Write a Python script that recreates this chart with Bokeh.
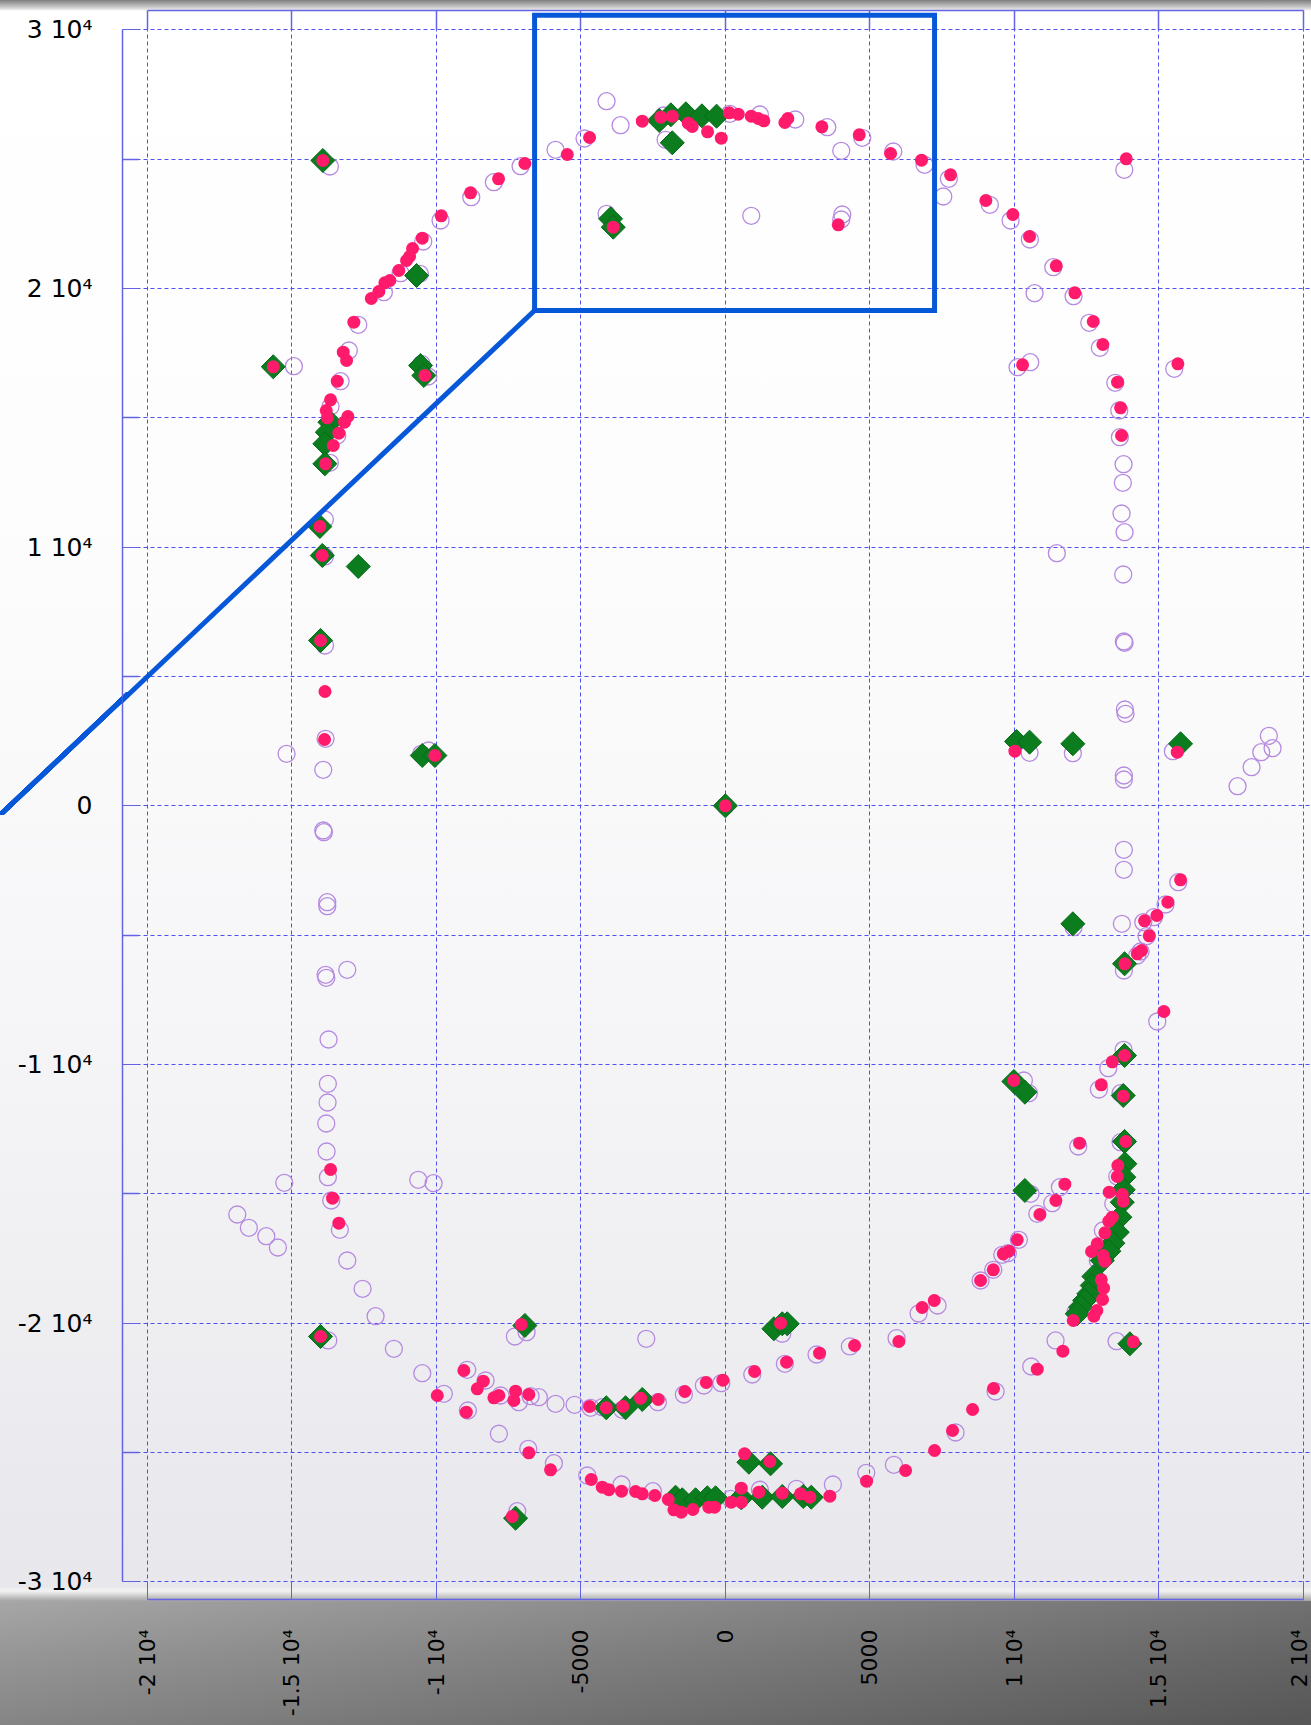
import math
from bokeh.plotting import figure
from bokeh.models import Range1d, LinearAxis, FixedTicker, BoxAnnotation, Arrow
from bokeh.embed import file_html
from bokeh.resources import INLINE

# ---------------- data ----------------
pink_x = [-7850, -6939, -5472, -4700, -2876, -2232, -1838, -1284, -1146, -616, -142, 135, 446, 896,
          1139, 1332, 2059, 2163, 3340, 4634, 5718, 6790, 7794, -3880, 3907,
          9016, 9950, 10528, 11453, 12096, 12733, 13065, 13574, 13678, 13712, 13875, 10286, 15661,
          10020, 15640, 15754, 15315, 14934, 14508, 14671, 14405, 14256, 13827, 15177, 13816, 13391, 9985,
          13010, 13771, 13861, 12259, 13584, 13564, 11750, 13287, 13737, 13771, 11439, 10885, 13391, 13273,
          13134, 10103, 9812, 9618, 12871, 12674, 13079, 13134, 9272, 8833, 13010, 13090, 13055, 12858,
          12754, 12041, 14117, 11681, 10795, 6811, 7230, 6237, 7240, 7863, 8556, 9282,
          -7064, 1910, -9051, -8379, -8587, -9971, -8012, -7839, -7261, -7320, -6801, -8967,
          -4700, -4122, -3548, -2935, -2322, -1402, -661, -87, 1011, 2118, 3260, 4472, 6005,
          -6801, -6050, -4641, -4260, -4032, -3593, -3108, -2876, -2440, -1976, -1782, -1526, -1125,
          -571, -374, 204, 550, 550, 1159, 1969, 2603, 2925, 3617, 4887, 665, 1540, -7375,
          -13664, -13595, -13377, -14010, -13931, -8819, -9833, -10490, -10826, -10930, -11034, -11300,
          -11612, -11785, -11992, -12255, -12858, -13225, -13110, -13432, -13664, -13813, -13778, -13065,
          -13180, -13377, -13570, -13837, -15647, -10400, -14034, -13951, -14010, -13858, -13872, -10054, 0]
pink_y = [24240, 24831, 25179, 25837, 26467, 26621, 26660, 26389, 26262, 26057, 25809, 26791, 26737, 26660,
          26571, 26482, 26416, 26571, 26250, 25941, 25218, 24959, 24394, 22369, 22461,
          23401, 22860, 22009, 20876, 19833, 18723, 17834, 16376, 15387, 14316, 25013, 17049, 17088,
          2111, 2072, -2861, -3727, -4241, -4446, -5026, -5594, -5722, -6108, -7952, -9653, -9897, -10620,
          -10786, -11227, -12978, -13044, -13906, -14331, -14629, -14938, -15027, -15286, -15259, -15800, -15905, -16059,
          -16508, -16778, -17219, -17320, -16933, -17231, -17385, -17606, -17938, -18352, -18325, -18650, -19086, -19512,
          -19732, -19898, -20722, -21085, -21781, -19396, -19125, -25697, -24924, -24151, -23339, -22527,
          -20053, -20003, -21831, -22245, -22539, -22798, -22887, -22798, -22632, -22991, -22759, -23443,
          -23223, -23273, -23223, -22902, -22952, -22643, -22295, -22206, -21870, -21510, -21162, -20865, -20710,
          -25013, -25670, -26045, -26343, -26443, -26498, -26509, -26598, -26664, -26818, -27217, -27309, -27205,
          -27116, -27116, -26923, -26923, -26382, -26536, -26575, -26598, -26730, -26691, -26111, -25052, -25349, -27476,
          -14061, -15170, -16137, -20517, 24947, 23699, 22809, 21943, 21545, 21236, 21081, 20695,
          20308, 20219, 19883, 19612, 18696, 17536, 17215, 16415, 15696, 15282, 15000, 15050,
          14830, 14405, 13929, 13222, 16972, 16635, 10798, 9677, 6391, 4419, 2563, 1945, 0]

green_x = [-2288, -1886, -1367, -813, -305, -1838, -3973, -3880,
           -13931, -15647, -10688, -10549, -10435, -13688, -13778, -13861, -13861, -14034, -13951, -12705,
           -14010, -10490, -10054, 0,
           10078, 10528, 12027, 15754, 12027, 13816, 13816, 9985, 10366, 13771, 13816, 13827, 13792, 13771,
           13737, 13654, 13564, 13411, 13273, 13045, 12754, 12698, 12581, 12432, 12293, 12179, 10366, 14000,
           -6939, 1679, 1969, 2142, -4122, -3454, -2876, -7261, -1724, -1492, -1031, -626, -339, 550, 1277,
           1969, 2696, 2973, 813, 1564, -14010]
green_y = [26494, 26714, 26753, 26675, 26660, 25632, 22693, 22369,
           24947, 16972, 20501, 17022, 16635, 14830, 14443, 13995, 13222, 10798, 9677, 9251,
           6391, 1945, 1945, 0,
           2486, 2459, 2397, 2397, -4562, -6108, -9653, -10659, -11072, -11200, -12978, -13840, -14358, -14845,
           -15325, -15905, -16485, -16910, -17219, -17579, -18197, -18545, -18866, -19125, -19384, -19639, -14872, -20799,
           -20092, -20219, -20026, -20026, -23273, -23273, -22952, -27541, -26730, -26830, -26830, -26753, -26753, -26753, -26730,
           -26702, -26702, -26730, -25376, -25438, -20517]

purple_x = [-7088, -5877, -4873, -4112, -3627, -2070, -2139, 156, 1194, 2419, 3527, 4738, 4011, 5811, 6894,
            7735, 7542, -4112, 896, 4046, 4011,
            9154, 9871, 10539, 11349, 10701, 12051, 12595, 12961, 13494, 13633, 13654, 13782, 13757, 13712,
            13816, 13771, 11473, 13806, 10113, 10553, 15536,
            13792, 13816, 13827, 13851, 13792, 13792, 10528, 12027, 15488, 18810, 18939, 18547, 18212, 17727,
            13792, 13792, 13723, 14464, 14830, 15235, 15675, 14578, 14370, 14256, 13792, 12051, 14948, 13782,
            13252, 10331,
            10504, 12927, 13678, 12214, 13678, 11577, 13564, 11314, 10795, 10158, 9777, 9584, 9272, 8833,
            13065, 13425, 12892, 12120, 11428, 13539, 10587, 10563, 7344, 6687, 7967, 9352,
            -7285, -6880, -2738, 1969, -10490, -8933, -8299, -9743, -7780, -7147, -6742, -6455, -5877, -5219,
            -4665, -4260, -3568, -2336, -1436, -744, -142, 931, 2059, 3156, 4309, 5925, -8912, -7839, -6822,
            -5935, -4780, -3593, -2509, 180, 1194, 2464, 3721, 4877, 5832, -7202,
            -13757, -13768, -13813, -13802, -13757, -15266, -10629, -10099, -13640, -16893, -16492, -15889,
            -15488, -13342, -13086, -12556, -12106, -11473, -13744,
            -13837, -15187, -13917, -10525, -10272, -13917, -13896, -13778, -13778, -13837, -13813, -13086, -13733,
            -13688, -8012, -8794, -9857, -10456, -11241, -11819, -12705, -13031, -13318, -13664, -13432, -13688,
            -14934, -10515, -10283, -13861, -13861, -10573, 0, -13858]
purple_y = [24727, 25361, 25798, 27240, 26312, 25748, 26687, 26753, 26726, 26532, 26235, 25825, 25322, 25295, 24781,
            24240, 23555, 22887, 22809, 22860, 22666,
            23235, 22628, 21893, 20822, 19817, 19701, 18673, 17706, 16353, 15282, 14250, 13206, 12487, 11300,
            10577, 8942, 9766, 24588, 16956, 17150, 16894,
            6352, 6302, 3723, 3557, 1171, 1017, 2049, 2034, 2111, 2706, 2227, 2072, 1492, 758,
            -1701, -2474, -4562, -4500, -4307, -3816, -2954, -5041, -5633, -5787, -6367, -4693, -8339, -9433,
            -10144, -10620,
            -11111, -10968, -11111, -13171, -13005, -14745, -14331, -15363, -15773, -16778, -17296, -17358, -17938, -18352,
            -16419, -15387, -17579, -19577, -20671, -20699, -21677, -15000, -19318, -19628, -24228, -22643,
            -20517, -20351, -20606, -20412, -21936, -21804, -22218, -22732, -22798, -23057, -22825, -22864, -23119, -23157,
            -23273, -23250, -23351, -23057, -22759, -22411, -22322, -21986, -21572, -21213, -20903, -20582, -23378, -24278, -24858,
            -25415, -25891, -26239, -26498, -26791, -26443, -26405, -26239, -25786, -25477, -27271,
            -10747, -11470, -12282, -13365, -14358, -14575, -14459, -14590, -15259, -15800, -16315, -16639,
            -17076, -16392, -17579, -18673, -19732, -20992, -20671,
            2590, 2010, 1392, 2010, 2138, -955, -1021, -3727, -3881, -6534, -6650, -6340, -9035,
            24715, 24108, 23528, 22628, 21816, 20590, 19856, 18595, 17602, 16415, 15437, 14316, 13260,
            16995, 17088, 16597, 11068, 9638, 20567, 0, 6197]

x_ticks = [-20000, -15000, -10000, -5000, 0, 5000, 10000, 15000, 20000]
x_tick_labels = ["-2 10\u2074", "-1.5 10\u2074", "-1 10\u2074", "-5000", "0", "5000",
                 "1 10\u2074", "1.5 10\u2074", "2 10\u2074"]
y_ticks = [-30000, -20000, -10000, 0, 10000, 20000, 30000]
y_tick_labels = ["-3 10\u2074", "-2 10\u2074", "-1 10\u2074", "0", "1 10\u2074", "2 10\u2074", "3 10\u2074"]
y_minor_ticks = [-25000, -15000, -5000, 5000, 15000, 25000]

# zoom-box annotation (data units)
box_left, box_right, box_top, box_bottom = -6603, 7240, 30565, 19148
leader_end_x, leader_end_y = -25087, -375

# ---------------- figure ----------------
AXIS = "#6464e2"
GRID = "#5050ee"
FONT = "DejaVu Sans"
BLUE = "#0758d8"

p = figure(frame_width=1189, frame_height=1589,
           x_range=Range1d(-20865, 20286), y_range=Range1d(-30685, 30746),
           output_backend="svg", toolbar_location=None,
           min_border_left=122, min_border_top=10, min_border_right=0, min_border_bottom=0)
p.background_fill_color = None
p.border_fill_color = None
p.outline_line_color = None

xa = p.xaxis[0]
xa.ticker = FixedTicker(ticks=x_ticks)
xa.major_label_overrides = {t: l for t, l in zip(x_ticks, x_tick_labels)}
xa.major_label_orientation = math.pi / 2
xa.major_label_text_font = FONT
xa.major_label_text_font_size = "22px"
xa.major_label_text_color = "#000000"
xa.major_label_standoff = 30
xa.major_tick_in = 18
xa.major_tick_out = 0
xa.minor_tick_line_color = None
xa.axis_line_color = AXIS
xa.axis_line_width = 1.5
xa.major_tick_line_color = AXIS
xa.bounds = (-20000, 20000)

ya = p.yaxis[0]
ya.ticker = FixedTicker(ticks=y_ticks, minor_ticks=y_minor_ticks)
ya.major_label_overrides = {t: l for t, l in zip(y_ticks, y_tick_labels)}
ya.major_label_text_font = FONT
ya.major_label_text_font_size = "25px"
ya.major_label_text_color = "#000000"
ya.major_label_standoff = 30
ya.major_tick_in = 16
ya.major_tick_out = 0
ya.minor_tick_in = 16
ya.minor_tick_out = 0
ya.minor_tick_line_color = AXIS
ya.minor_tick_line_width = 1.5
ya.axis_line_color = AXIS
ya.axis_line_width = 1.5
ya.major_tick_line_color = AXIS
ya.bounds = (-30000, 30000)

top_axis = LinearAxis(ticker=FixedTicker(ticks=[], minor_ticks=x_ticks),
                      major_label_standoff=0, major_tick_in=0, major_tick_out=0,
                      minor_tick_in=19, minor_tick_out=0, minor_tick_line_color=AXIS,
                      minor_tick_line_width=1.5, axis_line_color=AXIS, axis_line_width=1.5,
                      bounds=(-20000, 20000))
p.add_layout(top_axis, "above")

for g in (p.xgrid[0], p.ygrid[0]):
    g.grid_line_color = GRID
    g.grid_line_dash = "4 3"
    g.grid_line_width = 1
p.ygrid[0].minor_grid_line_color = GRID
p.ygrid[0].minor_grid_line_dash = "4 3"
p.ygrid[0].minor_grid_line_width = 1

p.scatter(purple_x, purple_y, marker="circle", size=17, fill_color=None,
          line_color="#b58ae0", line_width=1.3)
p.scatter(green_x, green_y, marker="square", angle=math.pi / 4, size=17,
          fill_color="#0b7d1e", line_color="#076a18", line_width=1)
p.scatter(pink_x, pink_y, marker="circle", size=13, fill_color="#ff1a6c", line_color=None)

p.add_layout(BoxAnnotation(left=box_left, right=box_right, top=box_top, bottom=box_bottom,
                           fill_color=None, fill_alpha=0, line_color=BLUE, line_alpha=1.0,
                           line_width=5, line_join="miter", level="overlay"))
p.add_layout(Arrow(end=None, x_start=box_left, y_start=box_bottom,
                   x_end=leader_end_x, y_end=leader_end_y,
                   line_color=BLUE, line_width=5, level="overlay"))

html = file_html(p, INLINE, title="scatter")
css = """<style>
html{background:
 linear-gradient(to bottom right, transparent calc(50% - 3px), #0758d8 calc(50% - 2.5px), #0758d8 calc(50% + 2.5px), transparent calc(50% + 3px)) 0 692px / 130px 123px no-repeat,
 linear-gradient(to right, rgba(255,255,255,0.10) 0%, rgba(0,0,0,0.28) 100%) 0 1601px / 100% 130px no-repeat,
 linear-gradient(to bottom, #7e7e7e 0px, #a9a9a9 4px, #d2d2d2 8px, #ffffff 11px, #fdfdfd 500px,
   #f6f6f8 1000px, #efeff2 1300px, #e7e7ec 1586px, #f2f2f2 1591px, #c4c4c4 1597px,
   #9c9c9c 1602px, #8c8c8c 1650px, #777777 1725px) 0 0 / 100% 1725px no-repeat,
 #777777;}
body{background:transparent;}
</style>"""
html = html.replace("</head>", css + "</head>", 1)
with open("out.html", "w") as f:
    f.write(html)
